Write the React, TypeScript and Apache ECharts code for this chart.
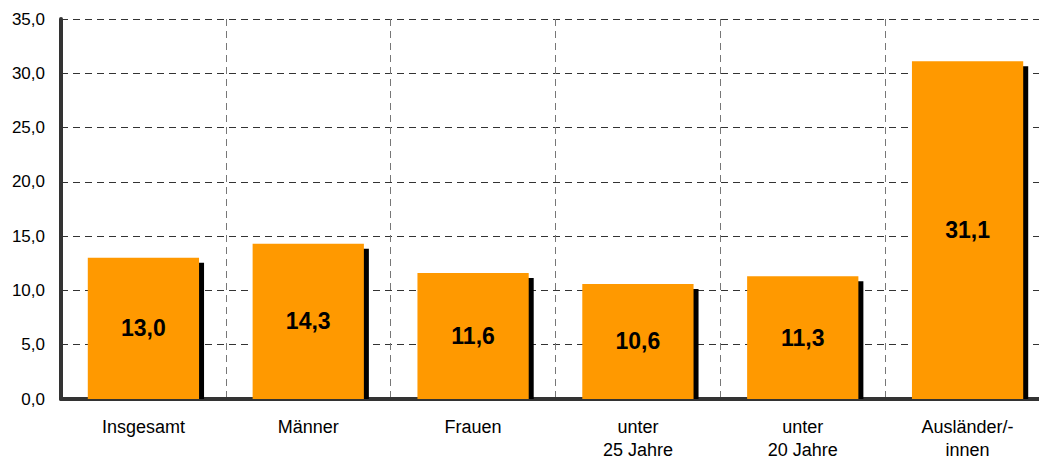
import React, { useEffect, useRef } from "react";
import * as echarts from "echarts";

const categories = ["Insgesamt", "Männer", "Frauen", "unter\n25 Jahre", "unter\n20 Jahre", "Ausländer/-\ninnen"];
const values = [13.0, 14.3, 11.6, 10.6, 11.3, 31.1];
const yTicks = { min: 0, max: 35, interval: 5 };

const fmt = (v: number) => v.toFixed(1).replace(".", ",");

export default function App() {
  const ref = useRef<HTMLDivElement>(null);
  useEffect(() => {
    if (!ref.current) return;
    const chart = echarts.init(ref.current, undefined, { renderer: "svg" });
    chart.setOption({
      animation: false,
      grid: { left: 61, top: 19, bottom: 61, right: 10 },
      xAxis: {
        type: "category",
        data: categories,
        boundaryGap: true,
        axisLine: { show: true, lineStyle: { color: "#333", width: 4 } },
        axisTick: { show: false },
        axisLabel: {
          interval: 0,
          margin: 16,
          fontFamily: "Liberation Sans",
          fontSize: 18,
          lineHeight: 23,
          color: "#000",
        },
        splitLine: { show: true, interval: 0, lineStyle: { color: "#777", type: [7, 5], width: 1 } },
      },
      yAxis: {
        type: "value",
        min: yTicks.min,
        max: yTicks.max,
        interval: yTicks.interval,
        axisLine: { show: true, lineStyle: { color: "#333", width: 4 } },
        axisTick: { show: false },
        axisLabel: {
          margin: 16,
          fontFamily: "Liberation Sans",
          fontSize: 17,
          color: "#000",
          formatter: (v: number) => fmt(v),
        },
        splitLine: { show: true, lineStyle: { color: "#333", type: [7, 5], width: 1 } },
      },
      series: [
        {
          type: "custom",
          data: values.map((v, i) => [i, v]),
          encode: { x: 0, y: 1 },
          z: 1,
          renderItem: (params: any, api: any) => {
            const idx = api.value(0);
            const val = api.value(1);
            const top = api.coord([idx, val]);
            const base = api.coord([idx, 0]);
            const band = api.size([1, 0])[0];
            const w = band * 0.675;
            const x0 = top[0] - w / 2;
            const h = base[1] - top[1];
            return {
              type: "group",
              children: [
                {
                  type: "rect",
                  shape: { x: x0 + 5, y: top[1] + 5, width: w, height: h - 5 },
                  style: { fill: "#000" },
                },
                {
                  type: "rect",
                  shape: { x: x0, y: top[1], width: w, height: h },
                  style: { fill: "#FF9900" },
                },
                {
                  type: "text",
                  style: {
                    text: fmt(val),
                    x: top[0],
                    y: top[1] + h / 2,
                    align: "center",
                    verticalAlign: "middle",
                    fontFamily: "Liberation Sans",
                    fontWeight: "bold",
                    fontSize: 23,
                    fill: "#000",
                  },
                },
              ],
            };
          },
        },
      ],
    });
    return () => chart.dispose();
  }, []);
  return (
    <div style={{ position: "absolute", left: 0, top: 0, width: 1039, height: 461, overflow: "hidden", background: "#fff" }}>
      <div ref={ref} style={{ width: 1060, height: 461 }} />
    </div>
  );
}
